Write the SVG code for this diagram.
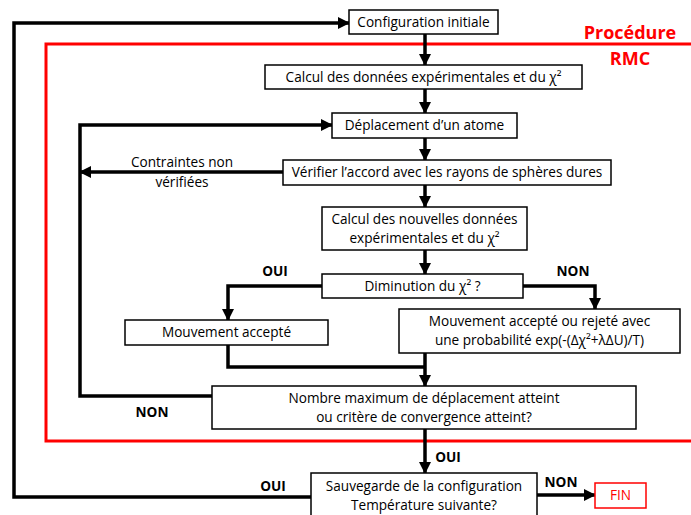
<svg xmlns="http://www.w3.org/2000/svg" width="691" height="515" viewBox="0 0 691 515">
<style>
.box{fill:#fff;stroke:#000;stroke-width:1.5}
.t{font-family:"Open Sans","Liberation Sans",sans-serif;font-size:13.6px;fill:#000;text-anchor:middle}
.lb{font-family:"Open Sans","Liberation Sans",sans-serif;font-size:13.6px;font-weight:bold;fill:#000;text-anchor:middle}
.c{fill:none;stroke:#000;stroke-width:3.5}
.ca{fill:none;stroke:#000;stroke-width:3.5;marker-end:url(#ah)}
</style>
<defs>
<marker id="ah" markerUnits="userSpaceOnUse" markerWidth="12" markerHeight="12" refX="11" refY="6" orient="auto">
<path d="M0,0 L12,6 L0,12 z" fill="#000"/>
</marker>
</defs>
<rect id="rmc" x="46" y="44" width="660" height="397" fill="none" stroke="#f00" stroke-width="3"/>
<g id="rmc-label">
<text x="630" y="39" style="font-family:'Open Sans','Liberation Sans',sans-serif;font-size:18px;font-weight:bold;fill:#f00;text-anchor:middle">Procédure</text>
<text x="630" y="65" style="font-family:'Open Sans','Liberation Sans',sans-serif;font-size:18px;font-weight:bold;fill:#f00;text-anchor:middle">RMC</text>
</g>
<g id="connectors">
<path class="ca" d="M311,497 H14 V23 H349"/>
<path class="ca" d="M425,34 V65"/>
<path class="ca" d="M425,89 V113"/>
<path class="ca" d="M212,396 H80 V125 H332"/>
<path class="ca" d="M425,138 V160"/>
<path class="ca" d="M283,172 H80"/>
<path class="ca" d="M425,185 V207"/>
<path class="ca" d="M425,250 V274"/>
<path class="ca" d="M322,286 H228 V320"/>
<path class="ca" d="M523,286 H595 V309"/>
<path class="c" d="M228,345 V367 H425"/>
<path class="ca" d="M425,353 V386"/>
<path class="ca" d="M425,429 V473"/>
<path class="ca" d="M537,495 H595"/>
<text class="lb" x="275" y="276">OUI</text>
<text class="lb" x="573" y="276">NON</text>
<text class="lb" x="152" y="417">NON</text>
<text class="lb" x="448" y="462">OUI</text>
<text class="lb" x="273" y="491">OUI</text>
<text class="lb" x="561" y="487">NON</text>
<text class="t" x="182" y="167">Contraintes non</text>
<text class="t" x="182" y="187">vérifiées</text>
</g>
<g id="n-config"><rect class="box" x="349" y="10" width="149" height="24"/><text class="t" x="423.5" y="27">Configuration initiale</text></g>
<g id="n-calcul"><rect class="box" x="265" y="65" width="317" height="24"/><text class="t" x="423.5" y="82">Calcul des données expérimentales et du χ²</text></g>
<g id="n-deplacement"><rect class="box" x="332" y="113" width="185" height="25"/><text class="t" x="424.5" y="130">Déplacement d’un atome</text></g>
<g id="n-verifier"><rect class="box" x="283" y="160" width="328" height="25"/><text class="t" x="447" y="177">Vérifier l’accord avec les rayons de sphères dures</text></g>
<g id="n-calcul2"><rect class="box" x="322" y="207" width="205" height="43"/><text class="t" x="424.5" y="224">Calcul des nouvelles données</text><text class="t" x="424.5" y="243">expérimentales et du χ²</text></g>
<g id="n-diminution"><rect class="box" x="322" y="274" width="201" height="24"/><text class="t" x="422.5" y="291">Diminution du χ² ?</text></g>
<g id="n-accepte"><rect class="box" x="125" y="320" width="203" height="25"/><text class="t" x="226.5" y="337">Mouvement accepté</text></g>
<g id="n-rejete"><rect class="box" x="399" y="309" width="281" height="44"/><text class="t" x="539.5" y="326">Mouvement accepté ou rejeté avec</text><text class="t" x="539.5" y="345">une probabilité exp(-(Δχ²+λΔU)/T)</text></g>
<g id="n-nombre"><rect class="box" x="212" y="386" width="424" height="43"/><text class="t" x="424" y="403">Nombre maximum de déplacement atteint</text><text class="t" x="424" y="422">ou critère de convergence atteint?</text></g>
<g id="n-sauvegarde"><rect class="box" x="311" y="473" width="226" height="50"/><text class="t" x="424" y="491">Sauvegarde de la configuration</text><text class="t" x="424" y="510">Température suivante?</text></g>
<g id="n-fin"><rect x="595" y="483" width="51" height="25" fill="#fff" stroke="#f00" stroke-width="1.5"/><text x="620.5" y="500" style="font-family:'Open Sans','Liberation Sans',sans-serif;font-size:13.6px;fill:#f00;text-anchor:middle">FIN</text></g>
</svg>
